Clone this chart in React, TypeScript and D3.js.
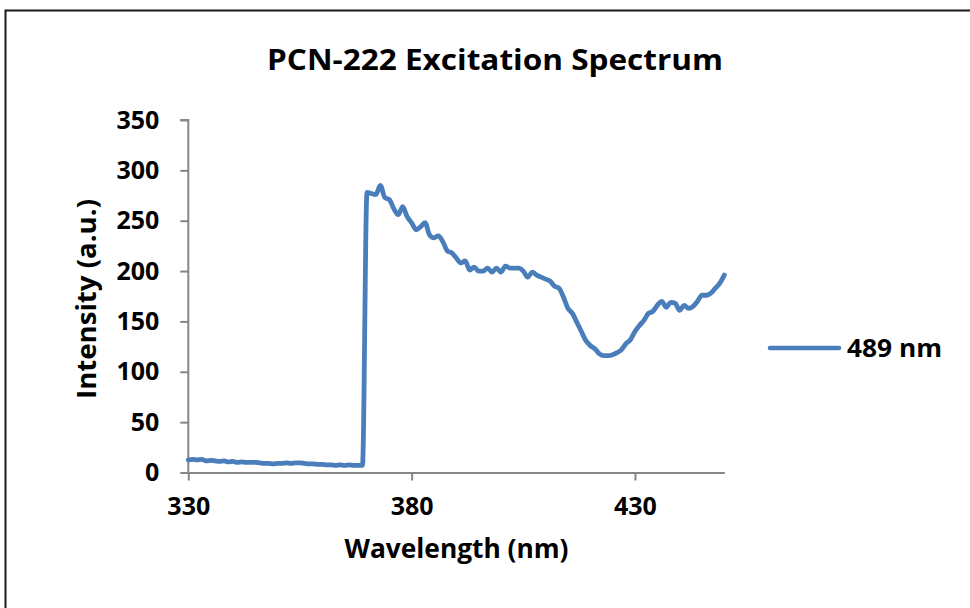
import React, { useEffect, useRef } from "react";
import * as d3 from "d3";

const title = "PCN-222 Excitation Spectrum";
const xTitle = "Wavelength (nm)";
const yTitle = "Intensity (a.u.)";
const seriesName = "489 nm";

const xTicks = [330, 380, 430];
const yTicks = [0, 50, 100, 150, 200, 250, 300, 350];

// wavelength (nm) every 1 nm from 330 to 450
const wavelengths = [
  330, 331, 332, 333, 334, 335, 336, 337, 338, 339,
  340, 341, 342, 343, 344, 345, 346, 347, 348, 349,
  350, 351, 352, 353, 354, 355, 356, 357, 358, 359,
  360, 361, 362, 363, 364, 365, 366, 367, 368, 369,
  370, 371, 372, 373, 374, 375, 376, 377, 378, 379,
  380, 381, 382, 383, 384, 385, 386, 387, 388, 389,
  390, 391, 392, 393, 394, 395, 396, 397, 398, 399,
  400, 401, 402, 403, 404, 405, 406, 407, 408, 409,
  410, 411, 412, 413, 414, 415, 416, 417, 418, 419,
  420, 421, 422, 423, 424, 425, 426, 427, 428, 429,
  430, 431, 432, 433, 434, 435, 436, 437, 438, 439,
  440, 441, 442, 443, 444, 445, 446, 447, 448, 449,
  450,
];

const intensity = [
  12.5, 13, 12.5, 13, 11.5, 12, 11.5, 11, 11.5, 10.5,
  11, 10, 10.5, 10, 10, 10, 9.5, 9, 9, 8.5,
  9, 9, 9.5, 9, 9.5, 9.5, 9, 8.5, 8.5, 8,
  8, 7.5, 7.5, 7, 7.5, 7, 7.5, 7, 7, 7,
  278, 277, 276, 285, 273, 271, 262, 256, 264, 254,
  248, 241, 244, 248, 236, 233, 235, 229, 220, 218,
  213, 208, 210, 201, 204, 200, 200, 203, 199, 203,
  199, 205, 203, 203, 203, 200, 194, 199, 196, 194,
  192, 190, 185, 183, 174, 163, 158, 149, 140, 131,
  126, 123, 118, 116, 116, 117, 119, 122, 128, 132,
  140, 146, 151, 158, 160, 166, 170, 164, 169, 168,
  161, 166, 163, 165, 170, 176, 176, 178, 183, 188,
  196,
];

const W = 970;
const H = 608;
const FONT = "'Open Sans', 'DejaVu Sans', sans-serif";
const LINE_COLOR = "#4a7ebb";
const AXIS_COLOR = "#868686";

export default function App() {
  const ref = useRef<SVGSVGElement | null>(null);

  useEffect(() => {
    document.body.style.margin = "0";
    const svg = d3.select(ref.current);
    svg.selectAll("*").remove();

    const x = d3.scaleLinear().domain([330, 450]).range([188.3, 724.3]);
    const y = d3.scaleLinear().domain([0, 350]).range([472.5, 120]);

    svg.append("rect").attr("x", 0).attr("y", 0).attr("width", W).attr("height", H).attr("fill", "#fff");

    // outer border (extends beyond right/bottom)
    svg
      .append("rect")
      .attr("x", 5.5)
      .attr("y", 10.5)
      .attr("width", W + 20)
      .attr("height", H + 20)
      .attr("fill", "none")
      .attr("stroke", "#1a1a1a")
      .attr("stroke-width", 2);

    // title
    svg
      .append("text")
      .attr("x", 267)
      .attr("y", 70)
      .attr("font-family", FONT)
      .attr("font-weight", 700)
      .attr("font-size", 28)
      .attr("textLength", 456)
      .attr("lengthAdjust", "spacingAndGlyphs")
      .attr("fill", "#000")
      .text(title);

    // y axis
    const yAxis = d3
      .axisLeft(y)
      .tickValues(yTicks)
      .tickSize(8)
      .tickPadding(21)
      .tickFormat(d3.format("d"));
    const gy = svg.append("g").attr("transform", `translate(${x(330)},0)`).call(yAxis);
    gy.select(".domain").attr("stroke", AXIS_COLOR).attr("stroke-width", 2);
    gy.selectAll(".tick line").attr("stroke", AXIS_COLOR).attr("stroke-width", 2);
    gy.selectAll(".tick text")
      .attr("font-family", FONT)
      .attr("font-weight", 700)
      .attr("font-size", 25)
      .attr("fill", "#000");

    // x axis
    const xAxis = d3
      .axisBottom(x)
      .tickValues(xTicks)
      .tickSize(8)
      .tickSizeOuter(0)
      .tickPadding(17)
      .tickFormat(d3.format("d"));
    const gx = svg.append("g").attr("transform", `translate(0,${y(0)})`).call(xAxis);
    gx.select(".domain").attr("stroke", AXIS_COLOR).attr("stroke-width", 2);
    gx.selectAll(".tick line").attr("stroke", AXIS_COLOR).attr("stroke-width", 2);
    gx.selectAll(".tick text")
      .attr("font-family", FONT)
      .attr("font-weight", 700)
      .attr("font-size", 25)
      .attr("fill", "#000");
    gy.select(".domain").attr("d", `M-8,${y(350)}H0V${y(0)}`);

    // axis titles
    svg
      .append("text")
      .attr("x", 456.5)
      .attr("y", 558)
      .attr("text-anchor", "middle")
      .attr("font-family", FONT)
      .attr("font-weight", 700)
      .attr("font-size", 26)
      .attr("textLength", 224)
      .attr("lengthAdjust", "spacingAndGlyphs")
      .text(xTitle);

    svg
      .append("text")
      .attr("transform", `translate(96,299) rotate(-90)`)
      .attr("text-anchor", "middle")
      .attr("font-family", FONT)
      .attr("font-weight", 700)
      .attr("font-size", 26)
      .attr("textLength", 200)
      .attr("lengthAdjust", "spacingAndGlyphs")
      .text(yTitle);

    // series line
    const data = wavelengths.map((w, i) => ({ w, v: intensity[i] }));
    const line = d3
      .line<{ w: number; v: number }>()
      .x((d) => x(d.w))
      .y((d) => y(d.v))
      .curve(d3.curveMonotoneX);
    svg
      .append("path")
      .datum(data)
      .attr("d", line)
      .attr("fill", "none")
      .attr("stroke", LINE_COLOR)
      .attr("stroke-width", 4.8)
      .attr("stroke-linejoin", "round")
      .attr("stroke-linecap", "round");

    // legend
    svg
      .append("line")
      .attr("x1", 770)
      .attr("x2", 839)
      .attr("y1", 348)
      .attr("y2", 348)
      .attr("stroke", LINE_COLOR)
      .attr("stroke-width", 4.5)
      .attr("stroke-linecap", "round");
    svg
      .append("text")
      .attr("x", 847)
      .attr("y", 357)
      .attr("font-family", FONT)
      .attr("font-weight", 700)
      .attr("font-size", 25)
      .attr("textLength", 95)
      .attr("lengthAdjust", "spacingAndGlyphs")
      .text(seriesName);
  }, []);

  return (
    <svg
      ref={ref}
      width={W}
      height={H}
      style={{ display: "block", position: "absolute", left: 0, top: 0 }}
    />
  );
}
